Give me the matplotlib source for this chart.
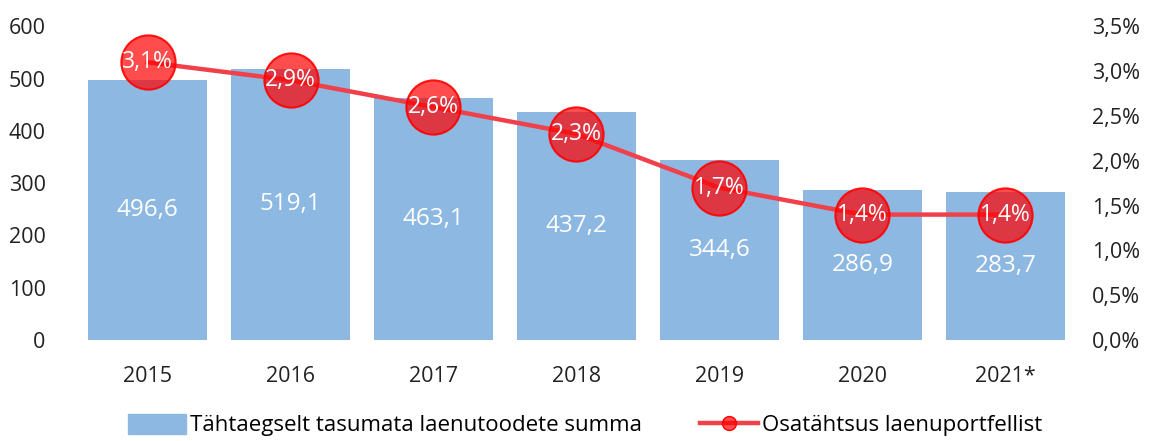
import matplotlib.pyplot as plt
import numpy as np
from matplotlib.lines import Line2D
from matplotlib.patches import Patch

plt.rcParams['font.family'] = ['Open Sans', 'DejaVu Sans']

years = ['2015', '2016', '2017', '2018', '2019', '2020', '2021*']
summa = [496.6, 519.1, 463.1, 437.2, 344.6, 286.9, 283.7]
osa = [3.1, 2.9, 2.6, 2.3, 1.7, 1.4, 1.4]

bar_color = '#8db8e2'
line_color = '#f0404a'

fig, ax = plt.subplots(figsize=(11.54, 4.41), dpi=100)
fig.subplots_adjust(left=0.066, right=0.933, top=0.94, bottom=0.229)

x = np.arange(len(years))
ax.bar(x, summa, width=0.83, color=bar_color, zorder=1)
for xi, v in zip(x, summa):
    ax.text(xi, v / 2, f'{v:.1f}'.replace('.', ','), ha='center', va='center',
            color='white', fontsize=17.5)

ax.set_xlim(-0.5, len(years) - 0.5)
ax.set_ylim(0, 600)
ax.set_yticks(range(0, 601, 100))
ax.set_xticks(x)
ax.set_xticklabels(years)
ax.tick_params(length=0, labelsize=15.5, colors='#222222')
ax.tick_params(axis='x', pad=19)
ax.tick_params(axis='y', pad=22)
for s in ax.spines.values():
    s.set_visible(False)

ax2 = ax.twinx()
ax2.set_ylim(0, 3.5)
ticks2 = np.arange(0, 3.51, 0.5)
ax2.set_yticks(ticks2)
ax2.set_yticklabels([f'{t:.1f}%'.replace('.', ',') for t in ticks2])
ax2.tick_params(length=0, labelsize=15.5, colors='#222222', pad=11)
for s in ax2.spines.values():
    s.set_visible(False)

ax2.plot(x, osa, color=line_color, lw=3.2, zorder=2)
ax2.plot(x, osa, 'o', ms=39, mfc=(1.0, 0.0, 0.0, 0.7), mec=(1.0, 0.0, 0.0, 0.9),
         mew=1.5, zorder=3)
for xi, v in zip(x, osa):
    ax2.text(xi, v, f'{v:.1f}%'.replace('.', ','), ha='center', va='center',
             color='white', fontsize=16.5, zorder=4)

# legend
handles = [Patch(color=bar_color),
           Line2D([], [], color=line_color, lw=3.2, marker='o', ms=10,
                  mfc=(1.0, 0.0, 0.0, 0.7), mec='#ff0000')]
labels = ['Tähtaegselt tasumata laenutoodete summa', 'Osatähtsus laenuportfellist']
fig.legend(handles, labels, loc='lower center', ncol=2, frameon=False,
           fontsize=16, bbox_to_anchor=(0.507, -0.035), columnspacing=2.6,
           handlelength=2.6, handleheight=1.0, handletextpad=0.2)

fig.savefig('out.png')
